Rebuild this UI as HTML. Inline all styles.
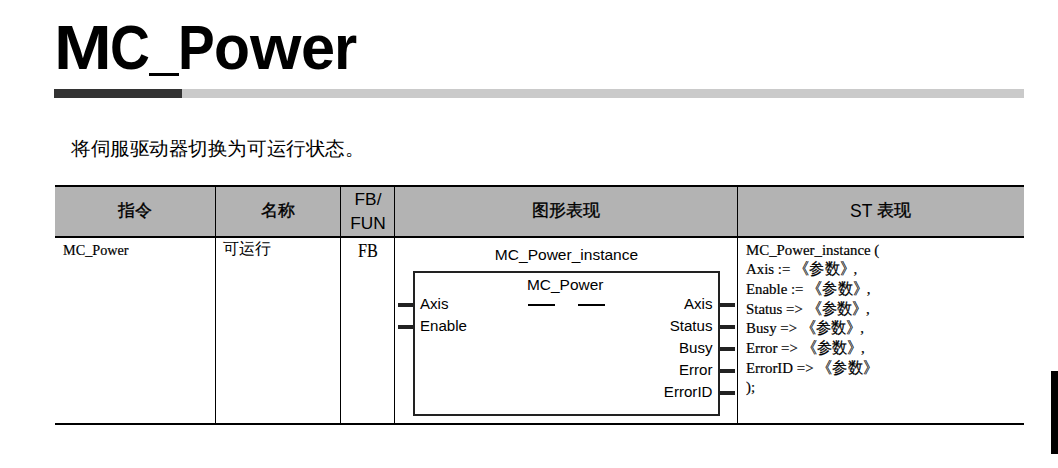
<!DOCTYPE html>
<html><head><meta charset="utf-8">
<style>
*{margin:0;padding:0;box-sizing:border-box}
html,body{width:1058px;height:468px;background:#fff;overflow:hidden;position:relative;font-family:"Liberation Sans",sans-serif;color:#000}
.a{position:absolute;white-space:nowrap}
.r{position:absolute;background:#000}
.sans{font-family:"Liberation Sans",sans-serif}
.serif{font-family:"Liberation Serif",serif}
.tg{top:7px;font-size:63px;line-height:80px;font-weight:bold;transform-origin:0 0}
.cj{display:inline-block;width:4em;white-space:nowrap;overflow:visible}
.hb{-webkit-text-stroke:0.35px #000;font-size:16.6px;position:relative;top:-1px}
</style></head><body>
<!-- title -->
<div id="title"><div class="a tg" style="left:53.55px;transform:scaleX(1.101)">M</div><div class="a tg" style="left:109.77px;transform:scaleX(0.876)">C</div><div class="a tg" style="left:178.41px;transform:scaleX(0.872)">P</div><div class="a tg" style="left:214.43px;transform:scaleX(0.935)">o</div><div class="a tg" style="left:250.4px;transform:scaleX(1.049)">w</div><div class="a tg" style="left:301.08px;transform:scaleX(0.973)">e</div><div class="a tg" style="left:333.52px;transform:scaleX(0.945)">r</div><div class="r" style="left:149px;top:73px;width:30px;height:3px"></div></div>
<div class="r" style="left:54px;top:89px;width:128px;height:9px;background:#333"></div>
<div class="r" style="left:182px;top:89px;width:842px;height:9px;background:#cacaca"></div>
<!-- desc -->
<div class="a serif" id="desc" style="left:71px;top:136.5px;font-size:19px;line-height:24px;transform:scaleX(1.029);transform-origin:0 0">将伺服驱动器切换为可运行状态。</div>
<!-- table -->
<div class="r" style="left:55px;top:187px;width:969px;height:49px;background:#b3b3b3"></div>
<div class="r" style="left:55px;top:185px;width:969px;height:2px"></div>
<div class="r" style="left:55px;top:236px;width:969px;height:2px"></div>
<div class="r" style="left:55px;top:423px;width:969px;height:2px"></div>
<div class="r" style="left:215px;top:187px;width:1px;height:236px"></div>
<div class="r" style="left:340px;top:187px;width:1px;height:236px"></div>
<div class="r" style="left:394px;top:187px;width:1px;height:236px"></div>
<div class="r" style="left:737px;top:187px;width:1px;height:236px"></div>
<!-- header text -->
<div class="a" style="left:55px;width:160px;top:199px;text-align:center;font-size:17.5px;line-height:24px;font-weight:500"><span class="hb">指令</span></div>
<div class="a" style="left:215px;width:125px;top:199px;text-align:center;font-size:17.5px;line-height:24px;font-weight:500"><span class="hb">名称</span></div>
<div class="a" style="left:341px;width:54px;top:187px;text-align:center;font-size:17.3px;line-height:24px;">FB/<br>FUN</div>
<div class="a" style="left:394px;width:343px;top:199px;text-align:center;font-size:17.5px;line-height:24px;font-weight:500"><span class="hb">图形表现</span></div>
<div class="a" style="left:737px;width:287px;top:199px;text-align:center;font-size:17.5px;line-height:24px;font-weight:500">ST <span class="hb">表现</span></div>
<!-- body -->
<div class="a serif" style="left:63px;top:240px;font-size:15.6px;line-height:19.6px;transform:scaleX(0.912);transform-origin:0 0;-webkit-text-stroke:0.2px #000">MC_Power</div>
<div class="a serif" style="left:223px;top:239px;font-size:15.5px;line-height:20px">可运行</div>
<div class="a serif" style="left:340.5px;width:54px;top:240.5px;text-align:center;font-size:17.8px;line-height:20px;-webkit-text-stroke:0.15px #000;transform:scaleX(0.91);transform-origin:50% 0">FB</div>
<!-- block -->
<div class="a sans" style="left:395px;width:343px;top:245.3px;text-align:center;font-size:15px;line-height:20px;transform:scaleX(1.035);transform-origin:50% 0">MC_Power_instance</div>
<div class="r" style="left:413px;top:271px;width:307px;height:145px;background:transparent;border:2px solid #222"></div>
<div class="a sans" style="left:527px;top:275.3px;font-size:15px;line-height:20px;transform:scaleX(1.03);transform-origin:0 0">MC_Power</div>
<div class="r" style="left:528px;top:304px;width:27px;height:2px"></div>
<div class="r" style="left:578px;top:304px;width:27px;height:2px"></div>
<!-- pins left -->
<div class="r" style="left:398px;top:303px;width:15px;height:4px;background:#222"></div>
<div class="r" style="left:398px;top:325px;width:15px;height:4px;background:#222"></div>
<div class="a sans" style="left:420px;top:292.5px;font-size:15.1px;line-height:22.05px">Axis<br>Enable</div>
<!-- pins right -->
<div class="r" style="left:720px;top:303px;width:15px;height:4px;background:#222"></div>
<div class="r" style="left:720px;top:325px;width:15px;height:4px;background:#222"></div>
<div class="r" style="left:720px;top:347px;width:15px;height:4px;background:#222"></div>
<div class="r" style="left:720px;top:369px;width:15px;height:4px;background:#222"></div>
<div class="r" style="left:720px;top:391px;width:15px;height:4px;background:#222"></div>
<div class="a sans" style="right:345.5px;top:292.5px;font-size:15.1px;line-height:22.05px;text-align:right">Axis<br>Status<br>Busy<br>Error<br>ErrorID</div>
<!-- ST -->
<div class="a serif" style="left:746px;top:239.8px;font-size:15.6px;line-height:19.65px;transform:scaleX(0.953);transform-origin:0 0;-webkit-text-stroke:0.2px #000">MC_Power_instance (<br>Axis := <span class="cj">《参数》</span>,<br>Enable := <span class="cj">《参数》</span>,<br>Status =&gt; <span class="cj">《参数》</span>,<br>Busy =&gt; <span class="cj">《参数》</span>,<br>Error =&gt; <span class="cj">《参数》</span>,<br>ErrorID =&gt; <span class="cj">《参数》</span><br>);</div>
<div class="r" style="left:1051px;top:371px;width:7px;height:83px"></div>
</body></html>
